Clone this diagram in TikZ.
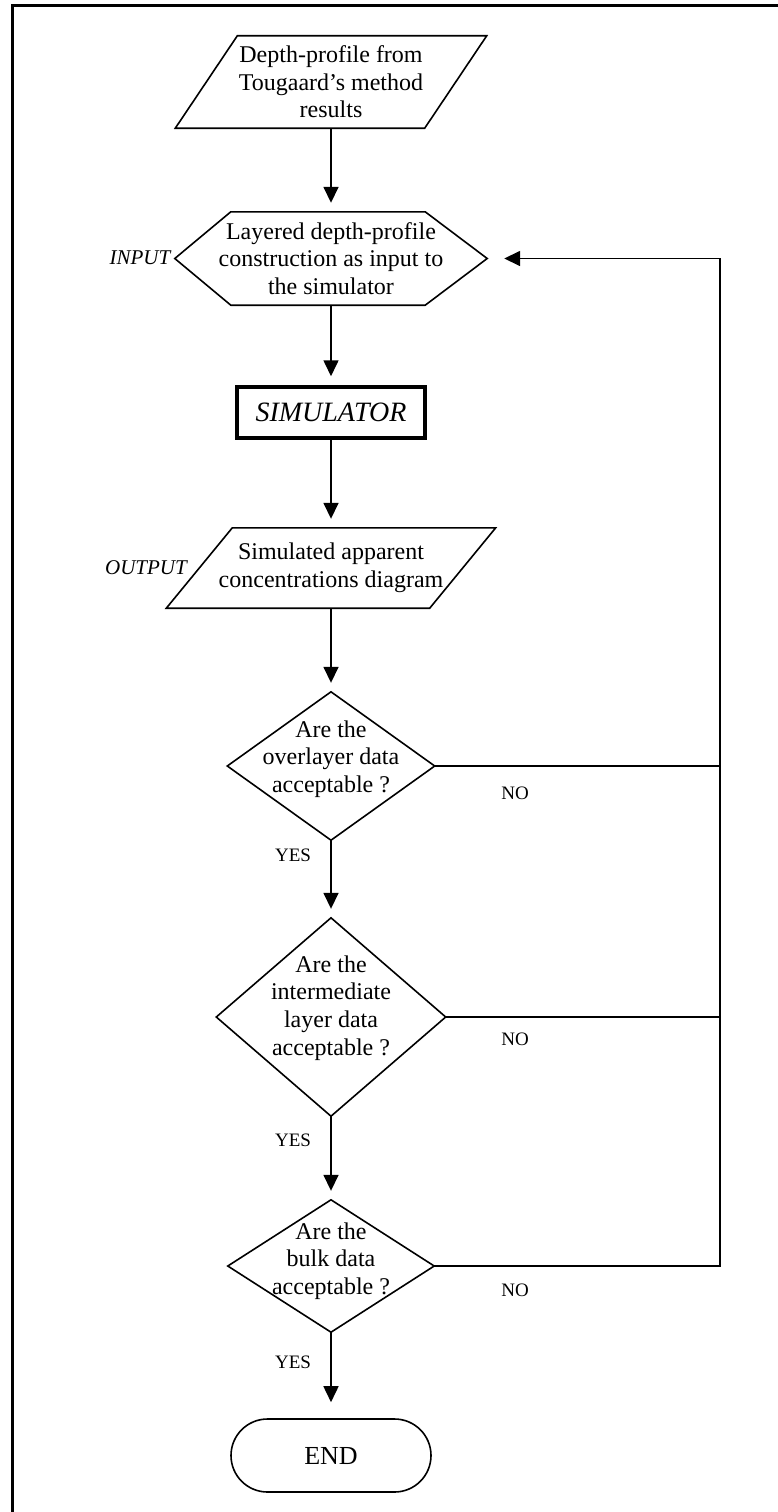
\documentclass[tikz,border=0pt]{standalone}
\usepackage{fontspec}
\setmainfont{Liberation Serif}
\usetikzlibrary{arrows.meta,calc,shapes.misc}
\begin{document}
\begin{tikzpicture}[x=1pt,y=-1pt,
 box/.style={draw=none, inner sep=0pt, align=center, font=\fontsize{24}{27.6}\selectfont},
 outline/.style={line width=1.6pt, line join=miter},
 conn/.style={line width=1.6pt},
 arr/.style={conn, -{Triangle[length=16pt,width=15pt]}, shorten >=9pt},
 lbl/.style={font=\fontsize{19}{22}\selectfont, inner sep=0pt},
 side/.style={font=\fontsize{21}{24}\selectfont\itshape, inner sep=0pt}]
\useasboundingbox (0,0) rectangle (778,1512);
% frame
\draw[line width=3pt] (12,1515) -- (12,6) -- (781,6);

% nodes
\node[box, minimum width=311pt, minimum height=92pt] (p1) at (331,82) {Depth-profile from\\Tougaard’s method\\results};
\draw[outline] (p1.south west) -- ($(p1.south east)+(-62,0)$) -- (p1.north east) -- ($(p1.north west)+(62,0)$) -- cycle;

\node[box, minimum width=312pt, minimum height=93pt] (hx) at (331,258.5) {Layered depth-profile\\construction as input to\\the simulator};
\draw[outline] (hx.west) -- ($(hx.north west)+(56,0)$) -- ($(hx.north east)+(-62,0)$) -- (hx.east) -- ($(hx.south east)+(-62,0)$) -- ($(hx.south west)+(56,0)$) -- cycle;

\node[draw, line width=3.5pt, minimum width=188pt, minimum height=51pt, inner sep=0pt, font=\fontsize{28}{32}\selectfont\itshape] (sim) at (331,412.5) {SIMULATOR};

\node[box, minimum width=329pt, minimum height=80pt] (p2) at (331,568) {Simulated apparent\\concentrations diagram};
\draw[outline] (p2.south west) -- ($(p2.south east)+(-66,0)$) -- (p2.north east) -- ($(p2.north west)+(66,0)$) -- cycle;

\node[box, minimum width=207pt, minimum height=148pt] (d1) at (331,766) {};
\draw[outline] (d1.north) -- (d1.east) -- (d1.south) -- (d1.west) -- cycle;
\node[box] (d1t) at ($(d1.center)+(0,-7)$) {Are the\\overlayer data\\acceptable ?};

\node[box, minimum width=229pt, minimum height=198pt] (d2) at (331,1017) {};
\draw[outline] (d2.north) -- (d2.east) -- (d2.south) -- (d2.west) -- cycle;
\node[box] (d2t) at ($(d2.center)+(0,-9)$) {Are the\\intermediate\\layer data\\acceptable ?};

\node[box, minimum width=206pt, minimum height=132pt] (d3) at (331,1266) {};
\draw[outline] (d3.north) -- (d3.east) -- (d3.south) -- (d3.west) -- cycle;
\node[box] (d3t) at ($(d3.center)+(0,-5)$) {Are the\\bulk data\\acceptable ?};

\node[rounded rectangle, draw, line width=1.6pt, minimum width=200pt, minimum height=73pt, inner sep=0pt, font=\fontsize{26}{30}\selectfont] (end) at (331,1455.5) {END};

% side labels
\node[side] (inp) at (140,258) {INPUT};
\node[side] (outp) at (146,568) {OUTPUT};
\node[lbl] (yes1) at (293,855) {YES};
\node[lbl] (yes2) at (293,1140) {YES};
\node[lbl] (yes3) at (293,1362) {YES};
\node[lbl] (no1) at (515,793) {NO};
\node[lbl] (no2) at (515,1039) {NO};
\node[lbl] (no3) at (515,1290) {NO};

% connectors
\draw[arr] (p1.south) -- (hx.north);
\draw[arr] (hx.south) -- (sim.north);
\draw[arr] (sim.south) -- (p2.north);
\draw[arr] (p2.south) -- (d1.north);
\draw[arr] (d1.south) -- (d2.north);
\draw[arr] (d2.south) -- (d3.north);
\draw[arr, shorten >=16pt] (d3.south) -- (end.north);

\coordinate (fb) at (720,258.5);
\draw[conn] (d1.east) -- (d1.east -| fb);
\draw[conn] (d2.east) -- (d2.east -| fb);
\draw[arr, shorten >=17pt, line join=miter] (d3.east) -- (d3.east -| fb) -- (fb) -- (hx.east);
\end{tikzpicture}
\end{document}
